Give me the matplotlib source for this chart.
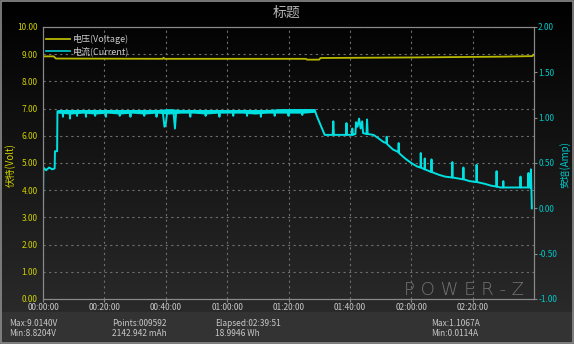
import numpy as np
import matplotlib
matplotlib.use("Agg")
import matplotlib.pyplot as plt
from matplotlib.patches import Rectangle
from matplotlib.ticker import FuncFormatter, FixedLocator, MultipleLocator

plt.rcParams['font.family'] = ['Liberation Sans Narrow', 'Noto Sans CJK SC', 'DejaVu Sans']

# voltage (minutes, volts)
volt_t = [0.0, 3.5, 4.2, 39.0, 39.3, 39.6, 85.7, 86.0, 90.0, 90.4, 120.0, 150.0, 159.5, 159.8]
volt_v = [8.92, 8.92, 8.84, 8.83, 8.87, 8.83, 8.83, 8.80, 8.80, 8.86, 8.88, 8.91, 8.93, 8.98]

# current (minutes, amps)
cur_t = [0.0, 0.1, 1.0, 2.0, 3.0, 3.8, 3.9, 4.6, 4.7,
         6.4, 6.5, 6.6, 8.7, 8.8, 8.9, 11.0, 11.1, 11.2, 13.9, 14.0, 14.1,
         16.9, 17.0, 17.1, 20.4, 20.5, 20.6, 24.9, 25.0, 25.1, 28.4, 28.5, 28.6,
         32.9, 33.0, 33.1, 36.9, 37.0, 37.1, 39.0,
         39.6, 40.0, 40.5, 42.5, 43.0, 43.4, 47.9, 48.0, 48.1, 52.9, 53.0, 53.1,
         57.4, 57.5, 57.6, 61.9, 62.0, 62.1, 66.4, 66.5, 66.6, 70.9, 71.0, 71.1,
         75.4, 75.5, 75.6, 79.9, 80.0, 80.1, 84.4, 84.5, 84.6, 88.6, 89.2,
         91.8, 94.4, 94.6, 94.8, 98.7, 98.9, 99.1, 100.6, 100.8, 101.0,
         101.8, 102.0, 102.5, 103.0, 103.5, 104.0, 104.3, 105.4, 105.6, 105.8,
         107.7, 109.0, 111.0, 111.9, 112.0, 112.1, 114.0, 115.8, 115.9, 116.0,
         118.0, 120.0, 122.0, 123.0, 123.1, 123.2, 124.3, 124.4, 124.5, 126.5,
         126.6, 126.7, 129.0, 131.0, 133.3, 133.4, 133.5, 136.9, 137.0, 137.1,
         139.0, 141.2, 141.3, 141.4, 144.0, 146.0, 147.7, 147.8, 147.9, 149.0,
         149.9, 150.0, 150.1, 153.0, 155.5, 155.6, 155.7, 158.1, 158.2, 158.3,
         158.9, 159.0, 159.3]
cur_a = [0.00, 0.45, 0.42, 0.45, 0.43, 0.44, 0.63, 0.63, 1.07,
         1.07, 1.01, 1.07, 1.07, 0.99, 1.07, 1.07, 1.02, 1.07, 1.07, 1.01, 1.07,
         1.07, 1.02, 1.07, 1.07, 1.01, 1.07, 1.07, 1.02, 1.07, 1.07, 1.01, 1.07,
         1.07, 1.02, 1.07, 1.07, 1.01, 1.07, 1.07,
         0.90, 0.93, 1.07, 1.07, 0.88, 1.07, 1.07, 1.01, 1.07, 1.07, 1.02, 1.07,
         1.07, 1.01, 1.07, 1.07, 1.02, 1.07, 1.07, 1.02, 1.07, 1.07, 1.01, 1.07,
         1.07, 1.02, 1.07, 1.08, 1.02, 1.08, 1.08, 1.03, 1.08, 1.08, 1.02,
         0.81, 0.81, 0.96, 0.81, 0.81, 0.94, 0.81, 0.81, 0.88, 0.81,
         0.82, 0.95, 0.90, 0.99, 0.88, 0.96, 0.83, 0.82, 0.98, 0.82,
         0.81, 0.78, 0.73, 0.72, 0.79, 0.71, 0.65, 0.62, 0.72, 0.61,
         0.55, 0.50, 0.46, 0.45, 0.61, 0.45, 0.43, 0.55, 0.43, 0.40,
         0.54, 0.40, 0.37, 0.35, 0.34, 0.51, 0.34, 0.32, 0.45, 0.32,
         0.30, 0.29, 0.48, 0.29, 0.27, 0.25, 0.24, 0.41, 0.24, 0.23,
         0.23, 0.30, 0.23, 0.23, 0.23, 0.35, 0.23, 0.23, 0.39, 0.23,
         0.23, 0.43, 0.00]

# noise envelope of the constant-current plateau
band_t = [4.7, 9.0, 13.0, 17.0, 21.0, 25.0, 29.0, 33.0, 37.0, 41.0, 45.0,
          49.0, 53.0, 57.0, 61.0, 65.0, 69.0, 73.0, 77.0, 81.0, 85.0, 88.6]
band_lo = [1.05, 1.04, 1.05, 1.04, 1.05, 1.04, 1.05, 1.04, 1.05, 1.04, 1.05,
           1.05, 1.04, 1.05, 1.05, 1.05, 1.04, 1.05, 1.05, 1.05, 1.05, 1.06]
band_hi = [1.09, 1.09, 1.09, 1.09, 1.09, 1.09, 1.09, 1.09, 1.09, 1.10, 1.09,
           1.09, 1.09, 1.09, 1.09, 1.09, 1.09, 1.09, 1.10, 1.10, 1.10, 1.10]

time_ticks = [0, 20, 40, 60, 80, 100, 120, 140]

stats_left = ["Max:9.0140V", "Min:8.8204V"]
stats_mid = ["Points:009592", "2142.942 mAh"]
stats_el = ["Elapsed:02:39:51", "18.9946 Wh"]
stats_right = ["Max:1.1067A", "Min:0.0114A"]

W, H = 574, 344
fig = plt.figure(figsize=(W / 100, H / 100), dpi=100)
fig.patch.set_facecolor("black")

# background gradient
bg = fig.add_axes([0, 0, 1, 1], zorder=-10)
grad = np.linspace(0, 1, 256).reshape(-1, 1)
bg.imshow(grad, aspect="auto", cmap=matplotlib.colors.LinearSegmentedColormap.from_list(
    "g", ["#000000", "#2e2e2e"]), extent=[0, 1, 0, 1], origin="upper")
bg.add_patch(Rectangle((0, 0), 1, (H - 312) / H, color="#333333"))
bg.add_patch(Rectangle((0.5 / W, 1.5 / H), 1 - 2 / W, 1 - 2 / H, fill=False,
                       edgecolor="#8c8c8c", lw=1.2))
bg.set_xlim(0, 1)
bg.set_ylim(0, 1)
bg.axis("off")

ax = fig.add_axes([43 / W, (H - 299) / H, 491 / W, 272 / H])
ax.patch.set_alpha(0)
ax2 = ax.twinx()

ax.plot(volt_t, volt_v, color="#b8b800", lw=1.3, label="电压(Voltage)")
ax2.fill_between(band_t, band_lo, band_hi, color="#00e0e0", lw=0)
ax2.plot(cur_t, cur_a, color="#00e0e0", lw=1.4)
cur_line, = ax.plot([], [], color="#00c0c0", lw=1.3, label="电流(Current)")

ax.set_xlim(0, 160)
ax.set_ylim(0, 10)
ax2.set_ylim(-1, 2)
ax.xaxis.set_major_locator(FixedLocator(time_ticks))
ax.yaxis.set_major_locator(MultipleLocator(1))
ax2.yaxis.set_major_locator(MultipleLocator(0.5))
ax.xaxis.set_major_formatter(FuncFormatter(lambda v, p: "%02d:%02d:00" % (v // 60, v % 60)))
ax.yaxis.set_major_formatter(FuncFormatter(lambda v, p: "%.2f" % v))
ax2.yaxis.set_major_formatter(FuncFormatter(lambda v, p: "%.2f" % v))

ax.grid(True, color="#6e6e6e", ls=(0, (2, 3)), lw=0.8)
for a in (ax, ax2):
    for s in a.spines.values():
        s.set_color("#8a8a8a")
ax.tick_params(axis="y", colors="#d0d000", labelsize=6, length=0, pad=4)
ax.tick_params(axis="x", colors="#8a8a8a", labelcolor="#c8c8c8", labelsize=6, length=2, pad=1)
ax2.tick_params(axis="y", colors="#8a8a8a", labelcolor="#00c8c8", labelsize=6, length=2, pad=1)

fig.text(0.5, 1 - 13 / H, "标题", color="#b4b4b4", fontsize=10, ha="center", va="center")
fig.text(10 / W, 1 - 165 / H, "伏特(Volt)", color="#d0d000", fontsize=7, rotation=90,
         ha="center", va="center")
fig.text(565 / W, 1 - 165 / H, "安培(Amp)", color="#00c8c8", fontsize=7, rotation=90,
         ha="center", va="center")

ax.legend(loc="upper left", bbox_to_anchor=(-0.008, 1.0), frameon=False, fontsize=6.5,
          labelcolor="#c8c8c8", handlelength=2.6, handletextpad=0.3, labelspacing=0.2,
          borderpad=0.3)

fig.text(464 / W, 1 - 290 / H, "P O W E R - Z", color="#747474", fontsize=13,
         ha="center", va="center", family="DejaVu Sans", weight="light")

for i, y in enumerate([323, 334]):
    fig.text(9 / W, 1 - y / H, stats_left[i], color="#c8c8c8", fontsize=6, va="center")
    fig.text(112 / W, 1 - y / H, stats_mid[i], color="#c8c8c8", fontsize=6, va="center")
    fig.text(215 / W, 1 - y / H, stats_el[i], color="#c8c8c8", fontsize=6, va="center")
    fig.text(431 / W, 1 - y / H, stats_right[i], color="#c8c8c8", fontsize=6, va="center")

fig.savefig("out.png", dpi=100, facecolor=fig.get_facecolor())
